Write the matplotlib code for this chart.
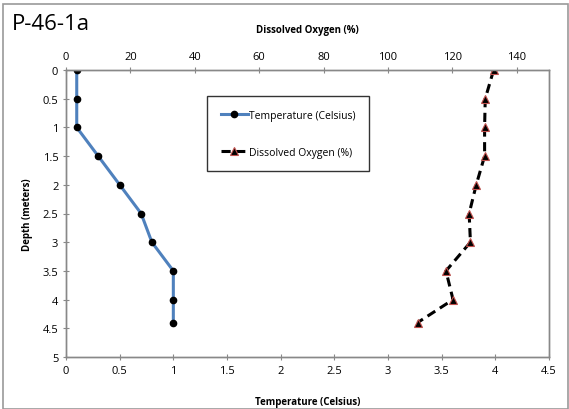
import matplotlib.pyplot as plt
from matplotlib.patches import Rectangle

# Data
depth_temp = [0, 0.5, 1, 1.5, 2, 2.5, 3, 3.5, 4, 4.4]
temperature = [0.1, 0.1, 0.1, 0.3, 0.5, 0.7, 0.8, 1.0, 1.0, 1.0]

depth_do = [0, 0.5, 1, 1.5, 2, 2.5, 3, 3.5, 4, 4.4]
dissolved_oxygen = [132.8, 130.2, 130.0, 130.0, 127.4, 125.2, 125.6, 118.0, 120.2, 109.2]

temp_ticks = [0, 0.5, 1, 1.5, 2, 2.5, 3, 3.5, 4, 4.5]
do_ticks = [0, 20, 40, 60, 80, 100, 120, 140]
depth_ticks = [0, 0.5, 1, 1.5, 2, 2.5, 3, 3.5, 4, 4.5, 5]

plt.rcParams['font.family'] = ['Open Sans', 'DejaVu Sans']

W, H = 569, 410
fig = plt.figure(figsize=(W / 100, H / 100), dpi=100)
ax = fig.add_axes([66 / W, 1 - 358 / H, (549 - 66) / W, (358 - 71) / H])
ax2 = ax.twiny()

# outer chart border
fig.patches.append(Rectangle((3 / W, 0), 1 - 4 / W, 1 - 5 / H, transform=fig.transFigure,
                             fill=False, edgecolor='#999999', linewidth=1.2))

l1, = ax.plot(temperature, depth_temp, color='#4F81BD', linewidth=2.2, marker='o',
              markersize=4.5, markerfacecolor='black', markeredgecolor='black',
              label='Temperature (Celsius)')
l2, = ax2.plot(dissolved_oxygen, depth_do, color='black', linewidth=2.2, linestyle=(0, (3, 1.8)),
               marker='^', markersize=6, markerfacecolor='black', markeredgecolor='#C0504D',
               markeredgewidth=0.8, label='Dissolved Oxygen (%)')

ax.set_xlim(0, 4.5)
ax.set_ylim(5, 0)
ax2.set_xlim(0, 150)
ax.set_xticks(temp_ticks)
ax.set_xticklabels([f'{t:g}' for t in temp_ticks])
ax.set_yticks(depth_ticks)
ax.set_yticklabels([f'{t:g}' for t in depth_ticks])
ax2.set_xticks(do_ticks)

for a in (ax, ax2):
    for s in a.spines.values():
        s.set_color('#888888')
        s.set_linewidth(1.0)
    a.tick_params(labelsize=8, colors='#888888', labelcolor='black', length=4,
                  direction='inout', width=0.8)

ax.set_xlabel('Temperature (Celsius)', fontsize=7, fontweight='bold', labelpad=15)
ax.set_ylabel('Depth (meters)', fontsize=7, fontweight='bold', labelpad=7)
ax2.set_xlabel('Dissolved Oxygen (%)', fontsize=7, fontweight='bold', labelpad=14)

fig.text(12 / W, 1 - 24 / H, 'P-46-1a', fontsize=16, va='center', ha='left')

leg = ax.legend(handles=[l1, l2], loc='upper left',
                bbox_to_anchor=(207 / W, 1 - 97 / H), bbox_transform=fig.transFigure,
                fontsize=7.5, frameon=True, fancybox=False, handlelength=2.6,
                handletextpad=0.1, labelspacing=2.5, borderpad=1.3, borderaxespad=0)
leg.get_frame().set_edgecolor('black')
leg.get_frame().set_linewidth(1.0)

fig.savefig('out.png', dpi=100)
